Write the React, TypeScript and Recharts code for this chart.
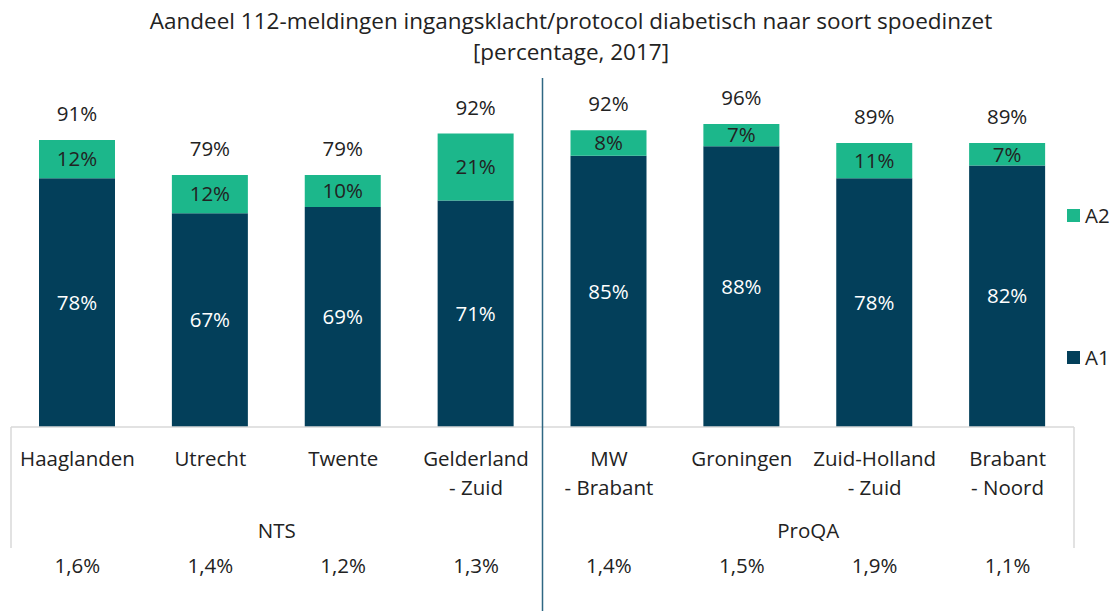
import { Bar, BarChart, LabelList, XAxis, YAxis } from "recharts";

const categories = [
  "Haaglanden",
  "Utrecht",
  "Twente",
  "Gelderland\n- Zuid",
  "MW\n- Brabant",
  "Groningen",
  "Zuid-Holland\n- Zuid",
  "Brabant\n- Noord",
];
const a1 = [78, 67, 69, 71, 85, 88, 78, 82];
const a2 = [12, 12, 10, 21, 8, 7, 11, 7];
const totals = [91, 79, 79, 92, 92, 96, 89, 89];
const shares = ["1,6%", "1,4%", "1,2%", "1,3%", "1,4%", "1,5%", "1,9%", "1,1%"];
const groups = ["NTS", "NTS", "NTS", "NTS", "ProQA", "ProQA", "ProQA", "ProQA"];

const data = categories.map((name, i) => ({
  name,
  A1: a1[i],
  A2: a2[i],
  total: totals[i],
  share: shares[i],
  group: groups[i],
}));

const W = 1114;
const H = 611;
const M = { top: 108, left: 11, right: 40, bottom: 64 };
const AXIS_H = 120;
const step = (W - M.left - M.right) / categories.length;

const FONT = "'Open Sans', sans-serif";
const FS = 20.5;
const TEXT = "#222222";
const DARK = "#033f5a";
const GREEN = "#1cb78b";

const series = [
  { key: "A2", color: GREEN },
  { key: "A1", color: DARK },
];

function CategoryTick(props: any) {
  const { x, y, payload, index } = props;
  const i = index ?? payload.index;
  const lines = String(payload.value).split("\n");
  const first = i === 0 || groups[i - 1] !== groups[i];
  const groupSize = groups.filter((g) => g === groups[i]).length;
  return (
    <g>
      {lines.map((line, k) => (
        <text
          key={k}
          x={x}
          y={y + 31 + k * 29}
          textAnchor="middle"
          dominantBaseline="central"
          fontFamily={FONT}
          fontSize={FS}
          fill={TEXT}
        >
          {line}
        </text>
      ))}
      <text x={x} y={y + 138} textAnchor="middle" dominantBaseline="central" fontFamily={FONT} fontSize={FS} fill={TEXT}>
        {shares[i]}
      </text>
      {first && (
        <text
          x={x + ((groupSize - 1) / 2) * step}
          y={y + 103}
          textAnchor="middle"
          dominantBaseline="central"
          fontFamily={FONT}
          fontSize={FS}
          fill={TEXT}
        >
          {groups[i]}
        </text>
      )}
      {i === 0 && <line x1={x - step / 2} x2={x - step / 2} y1={y} y2={y + 121} stroke="#d9d9d9" strokeWidth={1.5} />}
      {i === categories.length - 1 && (
        <line x1={x + step / 2} x2={x + step / 2} y1={y} y2={y + 121} stroke="#d9d9d9" strokeWidth={1.5} />
      )}
      {first && i > 0 && (
        <line x1={x - step / 2} x2={x - step / 2} y1={y - 349} y2={y + 184} stroke="#2f6783" strokeWidth={1.5} />
      )}
    </g>
  );
}

export default function App() {
  return (
    <div style={{ position: "absolute", left: 0, top: 0, width: W, height: H, background: "#fff" }}>
      <div
        style={{
          position: "absolute",
          left: 0,
          top: 5,
          width: 1142,
          textAlign: "center",
          fontFamily: FONT,
          fontSize: 22.5,
          lineHeight: "31px",
          color: TEXT,
        }}
      >
        Aandeel 112-meldingen ingangsklacht/protocol diabetisch naar soort spoedinzet
        <br />
        [percentage, 2017]
      </div>
      <BarChart width={W} height={H} data={data} margin={M} barSize={76}>
        <XAxis
          dataKey="name"
          interval={0}
          height={AXIS_H}
          tickLine={false}
          tickSize={0}
          tickMargin={0}
          axisLine={{ stroke: "#d9d9d9", strokeWidth: 1.5 }}
          tick={<CategoryTick />}
        />
        <YAxis hide domain={[0, 100]} />
        <Bar dataKey="A1" stackId="s" fill={DARK} isAnimationActive={false}>
          <LabelList
            dataKey="A1"
            position="center"
            formatter={(v: any) => `${v}%`}
            fill="#ffffff"
            fontFamily={FONT}
            fontSize={FS}
          />
        </Bar>
        <Bar dataKey="A2" stackId="s" fill={GREEN} isAnimationActive={false}>
          <LabelList
            dataKey="A2"
            position="center"
            formatter={(v: any) => `${v}%`}
            fill={TEXT}
            fontFamily={FONT}
            fontSize={FS}
          />
          <LabelList
            dataKey="total"
            position="top"
            offset={19}
            formatter={(v: any) => `${v}%`}
            fill={TEXT}
            fontFamily={FONT}
            fontSize={FS}
          />
        </Bar>
      </BarChart>
      <div
        style={{
          position: "absolute",
          left: 1067,
          top: 201,
          display: "flex",
          flexDirection: "column",
          gap: 114,
          fontFamily: FONT,
          fontSize: FS,
          color: TEXT,
        }}
      >
        {series.map((s) => (
          <div key={s.key} style={{ display: "flex", alignItems: "center", gap: 5 }}>
            <span style={{ width: 13, height: 13, background: s.color, display: "inline-block" }} />
            <span>{s.key}</span>
          </div>
        ))}
      </div>
    </div>
  );
}
